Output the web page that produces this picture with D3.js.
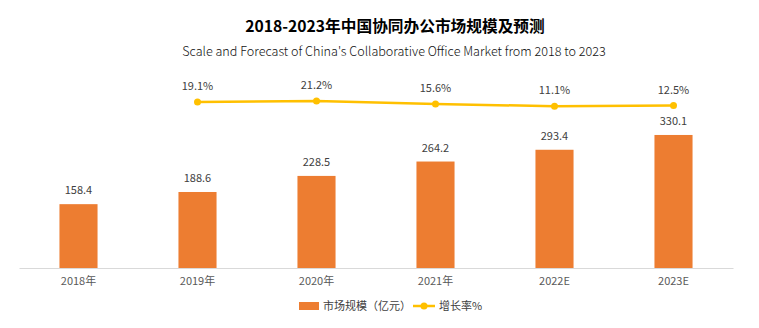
<!DOCTYPE html>
<html><head><meta charset="utf-8">
<script src="https://cdn.jsdelivr.net/npm/d3@7/dist/d3.min.js"></script>
<style>body{margin:0;background:#fff;}svg{display:block;font-family:"Noto Sans CJK SC","Noto Sans",sans-serif;}</style>
</head><body><svg id="c" width="759" height="328"></svg>
<script>
const categories = ["2018年","2019年","2020年","2021年","2022E","2023E"];
const marketSize = [158.4,188.6,228.5,264.2,293.4,330.1];
const growthRate = [null,19.1,21.2,15.6,11.1,12.5];
const title = "2018-2023年中国协同办公市场规模及预测";
const subtitle = "Scale and Forecast of China's Collaborative Office Market from 2018 to 2023";

const svg = d3.select("#c");
const W = 759;
const x = d3.scaleBand().domain(categories).range([19,733]).paddingInner(0.68).paddingOuter(0.34);
const y = d3.scaleLinear().domain([0,400]).range([268,106.8]);
const y2 = d3.scaleLinear().domain([0,21.2]).range([112.1,101]);

svg.append("text").attr("x",395).attr("y",32).attr("text-anchor","middle")
  .attr("font-size",15.7).attr("font-weight","bold").attr("fill","#000").text(title);
svg.append("text").attr("x",394).attr("y",56).attr("text-anchor","middle")
  .attr("font-size",12.6).attr("font-weight",300).attr("fill","#111").text(subtitle);

// bars
svg.selectAll("rect.bar").data(marketSize).join("rect").attr("class","bar")
  .attr("x",(d,i)=>x(categories[i])).attr("width",x.bandwidth())
  .attr("y",d=>y(d)).attr("height",d=>y(0)-y(d)).attr("fill","#ED7D31");
svg.selectAll("text.bl").data(marketSize).join("text").attr("class","bl")
  .attr("x",(d,i)=>x(categories[i])+x.bandwidth()/2).attr("y",d=>y(d)-10)
  .attr("text-anchor","middle").attr("font-size",11).attr("fill","#404040").text(d=>d.toFixed(1));

// axis
const ax = svg.append("g").attr("transform","translate(0,268)").call(d3.axisBottom(x).tickSize(0).tickPadding(9));
ax.select(".domain").attr("stroke","#d9d9d9");
ax.selectAll("text").attr("font-size",11).attr("fill","#595959").attr("font-family",'"Noto Sans CJK SC",sans-serif');

// line
const pts = growthRate.map((v,i)=>({v,c:categories[i]})).filter(d=>d.v!=null);
const cx = d=>x(d.c)+x.bandwidth()/2;
svg.append("path").datum(pts).attr("fill","none").attr("stroke","#FFC000").attr("stroke-width",2.5)
  .attr("d",d3.line().x(cx).y(d=>y2(d.v)));
svg.selectAll("circle.pt").data(pts).join("circle").attr("class","pt")
  .attr("cx",cx).attr("cy",d=>y2(d.v)).attr("r",3.5).attr("fill","#FFC000");
svg.selectAll("text.ll").data(pts).join("text").attr("class","ll")
  .attr("x",cx).attr("y",d=>y2(d.v)-12).attr("text-anchor","middle")
  .attr("font-size",11).attr("fill","#404040").text(d=>d.v.toFixed(1)+"%");

// legend
const lg = svg.append("g");
lg.append("rect").attr("x",299).attr("y",302).attr("width",20).attr("height",8).attr("fill","#ED7D31");
lg.append("text").attr("x",323).attr("y",310).attr("font-size",11).attr("fill","#404040").text("市场规模（亿元）");
lg.append("line").attr("x1",413).attr("x2",435).attr("y1",306).attr("y2",306).attr("stroke","#FFC000").attr("stroke-width",2.5);
lg.append("circle").attr("cx",424).attr("cy",306).attr("r",3.5).attr("fill","#FFC000");
lg.append("text").attr("x",439).attr("y",310).attr("font-size",11).attr("fill","#404040").text("增长率%");
</script></body></html>
